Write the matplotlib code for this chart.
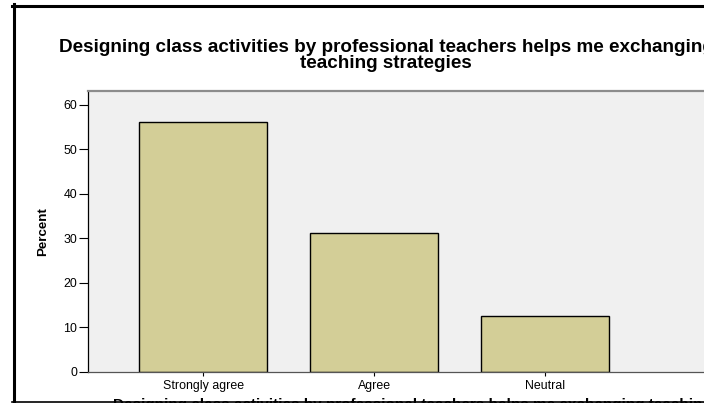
import matplotlib
matplotlib.use('Agg')
import matplotlib.pyplot as plt
from matplotlib.lines import Line2D

plt.rcParams['font.family'] = ['Liberation Sans', 'DejaVu Sans']

# data
categories = ['Strongly agree', 'Agree', 'Neutral']
percents = [56.25, 31.25, 12.5]
yticks = [0, 10, 20, 30, 40, 50, 60]
title_lines = ['Designing class activities by professional teachers helps me exchanging',
               'teaching strategies']
xlabel = ('Designing class activities by professional teachers helps me exchanging '
          'teaching strategies')

W, H = 704, 403
fig = plt.figure(figsize=(W / 100, H / 100), dpi=100)
fig.patch.set_facecolor('white')

# plot area in pixels: left 88, top 91, bottom 372, right beyond crop
ax = fig.add_axes([88 / W, (H - 372) / H, (W - 88) / W, (372 - 91) / H])
ax.set_facecolor('#f0f0f0')

x = range(len(categories))
ax.bar(x, percents, width=0.75, color='#d3ce97', edgecolor='black', linewidth=1.0, zorder=2)

ax.set_xlim(-0.674, 2.931)
ax.set_ylim(0, 63.1)
ax.set_xticks(list(x))
ax.set_xticklabels(categories, fontsize=8.9)
ax.set_yticks(yticks)
ax.set_yticklabels([str(v) for v in yticks], fontsize=8.9)
ax.tick_params(axis='y', length=6.5, width=0.8, pad=1.5, color='black')
ax.tick_params(axis='x', length=3, width=0.8, pad=3, color='black')

ax.spines['left'].set_color('black')
ax.spines['left'].set_linewidth(0.9)
ax.spines['bottom'].set_color('#555555')
ax.spines['bottom'].set_linewidth(0.9)
ax.spines['top'].set_color('#8c8c8c')
ax.spines['top'].set_linewidth(1.6)
ax.spines['right'].set_visible(False)

ax.set_ylabel('Percent', fontsize=9.6, fontweight='bold')
ax.yaxis.set_label_coords(-(88 - 43) / (W - 88), 0.5)
ax.yaxis.label.set_va('center')

# chart title, two centred lines
for line, base in zip(title_lines, [52.5, 68.5]):
    fig.text(386 / W, 1 - base / H, line, ha='center', va='baseline', fontsize=13.6,
             fontweight='bold')

# x-axis title, mostly cut off at the bottom of the crop
fig.text(113 / W, 1 - 409 / H, xlabel, ha='left', va='baseline', fontsize=11,
         fontweight='bold')

# outer chart frame
fig.add_artist(Line2D([13.5 / W, 13.5 / W], [0, 1 - 4 / H], color='black', linewidth=2.2,
                      transform=fig.transFigure))
fig.add_artist(Line2D([12 / W, 1], [1 - 5.5 / H, 1 - 5.5 / H], color='black', linewidth=2.2,
                      transform=fig.transFigure))
fig.add_artist(Line2D([12 / W, 1], [0.6 / H, 0.6 / H], color='black', linewidth=1.2,
                      transform=fig.transFigure))

fig.savefig('out.png', dpi=100)
